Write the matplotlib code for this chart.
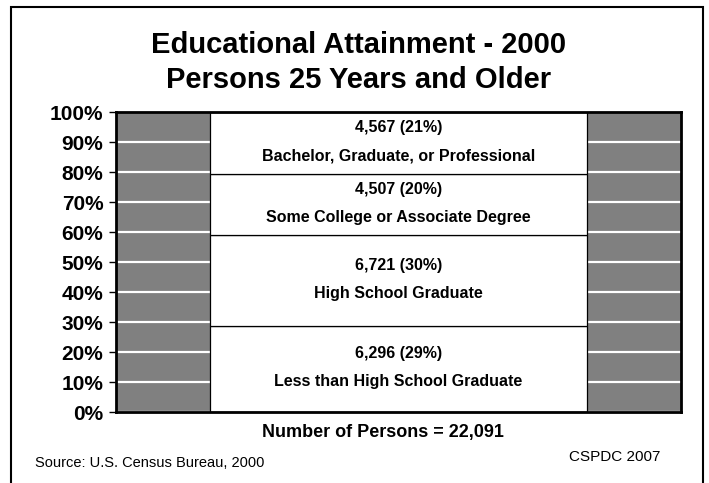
import matplotlib
matplotlib.use('Agg')
import matplotlib.pyplot as plt
from matplotlib.patches import Rectangle

plt.rcParams['font.family'] = ['Liberation Sans', 'DejaVu Sans']

# stacked segments, bottom to top
categories = ['Less than High School Graduate', 'High School Graduate',
              'Some College or Associate Degree',
              'Bachelor, Graduate, or Professional']
persons = [6296, 6721, 4507, 4567]
pct_labels = ['29%', '30%', '20%', '21%']
total = 22091
y_ticks = [0, 10, 20, 30, 40, 50, 60, 70, 80, 90, 100]


def main():
    fig = plt.figure(figsize=(7.09, 4.83), dpi=100)
    ax = fig.add_axes([116/709, 1 - 412/483, 565/709, 300/483])
    ax.set_facecolor('#808080')

    bottom = 0
    for cat, n, pct in zip(categories, persons, pct_labels):
        share = n / total * 100
        ax.bar(0.5, share, width=2/3, bottom=bottom, color='white',
               edgecolor='black', linewidth=0.9, zorder=3)
        mid = bottom + share / 2
        ax.annotate(f'{n:,} ({pct})', (0.5, mid), xytext=(0, 11),
                    textcoords='offset points', ha='center', va='center',
                    fontsize=11.5, fontweight='bold', zorder=4)
        ax.annotate(cat, (0.5, mid), xytext=(0, -9),
                    textcoords='offset points', ha='center', va='center',
                    fontsize=11.5, fontweight='bold', zorder=4)
        bottom += share

    ax.set_xlim(0, 1)
    ax.set_ylim(0, 100)
    ax.set_xticks([])
    ax.set_yticks(y_ticks)
    ax.set_yticklabels([f'{t}%' for t in y_ticks], fontsize=15,
                       fontweight='bold')
    ax.tick_params(axis='y', length=5, width=1, pad=4)
    ax.yaxis.grid(True, color='white', linewidth=1.6, zorder=1)
    ax.set_axisbelow(True)
    for s in ax.spines.values():
        s.set_linewidth(2)
        s.set_zorder(5)

    fig.text(0.506, 1 - 45/483, 'Educational Attainment - 2000',
             ha='center', va='center', fontsize=21, fontweight='bold')
    fig.text(0.506, 1 - 80/483, 'Persons 25 Years and Older',
             ha='center', va='center', fontsize=21, fontweight='bold')
    fig.text(383/709, 1 - 432/483, f'Number of Persons = {total:,}',
             ha='center', va='center', fontsize=13, fontweight='bold')
    fig.text(35/709, 1 - 463/483, 'Source: U.S. Census Bureau, 2000',
             ha='left', va='center', fontsize=10.5)
    fig.text(660/709, 1 - 457/483, 'CSPDC 2007',
             ha='right', va='center', fontsize=11)

    # slide frame, runs off the bottom edge
    fig.patches.append(Rectangle((11/709, -0.1), 692/709, 1.1 - 7/483,
                                 transform=fig.transFigure, fill=False,
                                 edgecolor='black', linewidth=1.5))

    fig.savefig('out.png', dpi=100)


if __name__ == '__main__':
    main()
